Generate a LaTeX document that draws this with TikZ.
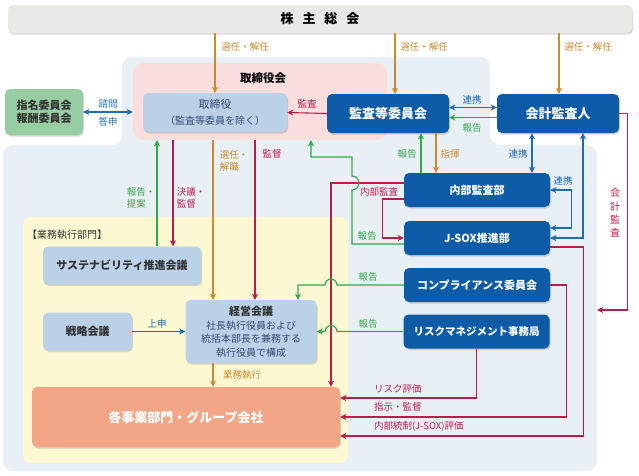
\documentclass[tikz,border=0pt]{standalone}
\usepackage{fontspec}
\setmainfont{Noto Sans CJK JP}
\usepackage{tikz}
\usetikzlibrary{arrows.meta,positioning,calc,shadows}
\definecolor{govblue}{RGB}{14,92,168}
\definecolor{paleblue}{RGB}{186,209,232}
\definecolor{bgblue}{RGB}{233,240,245}
\definecolor{boardpink}{RGB}{250,221,221}
\definecolor{execyellow}{RGB}{252,248,210}
\definecolor{bizorange}{RGB}{243,166,134}
\definecolor{nomgreen}{RGB}{152,205,163}
\definecolor{shgrey}{RGB}{233,233,230}
\definecolor{lnorange}{RGB}{204,138,48}
\definecolor{lnred}{RGB}{190,28,72}
\definecolor{lngreen}{RGB}{46,168,72}
\definecolor{lnblue}{RGB}{30,108,180}
\definecolor{txtgrey}{RGB}{52,78,112}

\begin{document}
\begin{tikzpicture}[x=1pt,y=-1pt,
  every node/.style={font=\fontsize{10}{12}\selectfont, inner sep=0pt},
  >={Stealth[length=6pt,width=6pt,inset=1.5pt]},
  ln/.style={line width=1.1pt},
  box/.style={rounded corners=5pt, drop shadow={shadow xshift=1pt,shadow yshift=-1.5pt,opacity=0.3}},
  darkbox/.style={box, fill=govblue, text=white, font=\bfseries\fontsize{11}{13}\selectfont, minimum width=146pt, minimum height=34pt},
  lightbox/.style={box, fill=paleblue, text=black!80, font=\bfseries\fontsize{11}{13.5}\selectfont},
  lbl/.style={font=\fontsize{9.5}{12}\selectfont}]
\useasboundingbox (0,0) rectangle (639,475);

% backgrounds
\fill[bgblue, rounded corners=10pt] (300,57) -- (490,57) -- (490,145) -- (597,145) -- (597,471) -- (3,471) -- (3,145) -- (122,145) -- (122,57) -- cycle;
\fill[execyellow, rounded corners=8pt] (23,217) rectangle (348,463);
\node[fill=boardpink, rounded corners=10pt, minimum width=254pt, minimum height=77pt] (board) at (260,101.5) {};
\node[font=\bfseries\fontsize{11.5}{13}\selectfont] (boardlbl) at (263,78) {取締役会};
\node[anchor=west, text=black!80] (execlbl) at (27,235) {【業務執行部門】};

% boxes
\node[box, fill=shgrey, minimum width=624pt, minimum height=28pt, font=\bfseries\fontsize{13}{15}\selectfont] (sh) at (320,19) {株\hspace{9pt}主\hspace{9pt}総\hspace{9pt}会};
\node[lightbox, fill=nomgreen, minimum width=78pt, minimum height=46pt, align=center] (nomcom) at (44,112) {指名委員会\\報酬委員会};
\node[box, fill=paleblue, text=txtgrey, minimum width=144pt, minimum height=39pt, align=center, font=\fontsize{11}{16}\selectfont] (dir) at (215,112.5) {取締役\\{\fontsize{10}{12}\selectfont （監査等委員を除く）}};
\node[darkbox, minimum width=122pt, minimum height=39pt, font=\bfseries\fontsize{13}{15}\selectfont] (ac) at (388,113.5) {監査等委員会};
\node[darkbox, minimum width=122pt, minimum height=39pt, font=\bfseries\fontsize{13}{15}\selectfont] (extaud) at (558,113.5) {会計監査人};
\node[darkbox] (ia) at (477,190) {内部監査部};
\node[darkbox] (jsox) at (477,238) {J-SOX推進部};
\node[darkbox] (comp) at (477,285) {コンプライアンス委員会};
\node[darkbox, font=\bfseries\fontsize{10.5}{13}\selectfont] (risk) at (476.5,331.5) {リスクマネジメント事務局};
\node[lightbox, minimum width=158pt, minimum height=38pt] (sus) at (122,265.5) {サステナビリティ推進会議};
\node[lightbox, minimum width=89pt, minimum height=38pt] (strat) at (87.5,331.5) {戦略会議};
\node[box, fill=paleblue, text=txtgrey, minimum width=131pt, minimum height=63pt, align=center, font=\fontsize{10}{13.5}\selectfont] (mgmt) at (251,331.5) {{\bfseries\fontsize{11}{13.5}\selectfont\color{black!80}経営会議}\\社長執行役員および\\統括本部長を兼務する\\執行役員で構成};
\node[box, fill=bizorange, text=white, minimum width=308pt, minimum height=60pt, font=\bfseries\fontsize{13}{15}\selectfont] (biz) at (186,417) {各事業部門・グループ会社};

% shareholders
\draw[ln, lnorange, ->] (sh.south -| dir.north) -- (dir.north);
\draw[ln, lnorange, ->] ([xshift=7pt]ac.north |- sh.south) -- ([xshift=7pt]ac.north);
\draw[ln, lnorange, ->] ([xshift=1pt]extaud.north |- sh.south) -- ([xshift=1pt]extaud.north);
\node[lbl, text=lnorange] (selA) at (245,47) {選任・解任};
\node[lbl, text=lnorange] (selB) at (424,47) {選任・解任};
\node[lbl, text=lnorange] (selC) at (588,47) {選任・解任};

% board level
\draw[ln, lnblue, <->] (nomcom.east) -- (nomcom.east -| board.west);
\node[lbl, text=lnblue] (ask) at (108,104) {諮問};
\node[lbl, text=lnblue] (answer) at (108,122) {答申};
\draw[ln, lnred, ->] (ac.west) -- (dir.east);
\node[lbl, text=lnred] (audA) at (307,104) {監査};
\draw[ln, lnblue, <->] ([yshift=6pt]ac.east) -- ([yshift=6pt]extaud.west);
\draw[ln, lngreen, ->] ([yshift=-4pt]extaud.west) -- ([yshift=-4pt]ac.east);
\node[lbl, text=lnblue] (coopA) at (472,100) {連携};
\node[lbl, text=lngreen] (repA) at (472,128) {報告};

% board to execution
\draw[ln, lngreen, ->] ([xshift=35pt]sus.north) -- ([xshift=35pt]sus.north |- board.south);
\draw[ln, lnred, ->] ([xshift=51pt]sus.north |- board.south) -- ([xshift=51pt]sus.north);
\draw[ln, lnorange, ->] ([xshift=-38pt]mgmt.north |- board.south) -- ([xshift=-38pt]mgmt.north);
\draw[ln, lnred, ->] ([xshift=4pt]mgmt.north |- board.south) -- ([xshift=4pt]mgmt.north);
\node[lbl, text=lngreen, align=left] (repB) at (141,198) {報告・\\提案};
\node[lbl, text=lnred, align=left] (decide) at (191,198) {決議・\\監督};
\node[lbl, text=lnorange, align=left] (selD) at (234,161) {選任・\\解職};
\node[lbl, text=lnred] (superv) at (272,154) {監督};

% audit committee and audit units
\draw[ln, lngreen, ->] ([xshift=-56pt]ia.north) -- ([xshift=-56pt]ia.north |- ac.south);
\draw[ln, lnorange, ->] ([xshift=-41pt]ia.north |- ac.south) -- ([xshift=-41pt]ia.north);
\draw[ln, lnblue, <->] ([xshift=55pt]ia.north |- extaud.south) -- ([xshift=55pt]ia.north);
\draw[ln, lnblue, <->] (ia.east) -- ++(21,0) |- ([yshift=10pt]jsox.east);
\draw[ln, lnblue, <->] ([xshift=25pt]extaud.south) |- (jsox.east);
\node[lbl, text=lngreen] (repC) at (407,154) {報告};
\node[lbl, text=lnorange] (command) at (450,154) {指揮};
\node[lbl, text=lnblue] (coopB) at (518,154) {連携};
\node[lbl, text=lnblue] (coopC) at (563,181) {連携};

% internal audit
\draw[ln, lnred, ->] ([yshift=7pt]ia.west) -| ([xshift=145pt]biz.north);
\draw[ln, lnred, ->] ([yshift=-9pt]ia.west) -- ++(-21,0) |- (jsox.west);
\node[lbl, text=lnred] (iaudit) at (379,192) {内部監査};
\draw[ln, lngreen, ->] ([yshift=-6pt]jsox.west) -- (352,244) -- (352,190) arc[start angle=-90, end angle=90, radius=7pt] -- (352,157) -| ([xshift=51pt]board.south);
\node[lbl, text=lngreen] (repD) at (367,236) {報告};

% reports to management
\draw[ln, lngreen, ->] (comp.west) -- (337,285) arc[start angle=0, end angle=180, radius=6pt] -- (298,285) -- ([xshift=47pt]mgmt.north);
\draw[ln, lngreen, ->] (risk.west) -- (337,331.5) arc[start angle=0, end angle=180, radius=6pt] -- (mgmt.east);
\node[lbl, text=lngreen] (repE) at (368,277) {報告};
\node[lbl, text=lngreen] (repF) at (368,324) {報告};
\draw[ln, lnblue, ->] (strat.east) -- (mgmt.west);
\node[lbl, text=lnblue] (propose) at (157,324) {上申};
\draw[ln, lnorange, ->] ([xshift=-38pt]mgmt.south) -- ([xshift=-38pt]mgmt.south |- biz.north);
\node[lbl, text=lnorange] (execute) at (242,375) {業務執行};

% evaluation of business units
\draw[ln, lnred, ->] (risk.south) |- ([yshift=19pt]biz.east);
\draw[ln, lnred, ->] (comp.east) -- ++(16,0) |- (biz.east);
\draw[ln, lnred, ->] ([yshift=-9pt]jsox.east) -- ++(33,0) |- ([yshift=-19pt]biz.east);
\node[lbl, text=lnred, anchor=west] (riskeval) at (374,389) {リスク評価};
\node[lbl, text=lnred, anchor=west] (instruct) at (374,407) {指示・監督};
\node[lbl, text=lnred, anchor=west] (jsoxeval) at (374,426) {内部統制(J-SOX)評価};

% external audit
\coordinate (audend) at (597,310);
\draw[ln, lnred, ->] (extaud.east) -- ++(8,0) |- (audend);
\node[text=lnred, align=center, font=\fontsize{10}{13.3}\selectfont] (extlbl) at (615,213) {会\\計\\監\\査};
\end{tikzpicture}
\end{document}
